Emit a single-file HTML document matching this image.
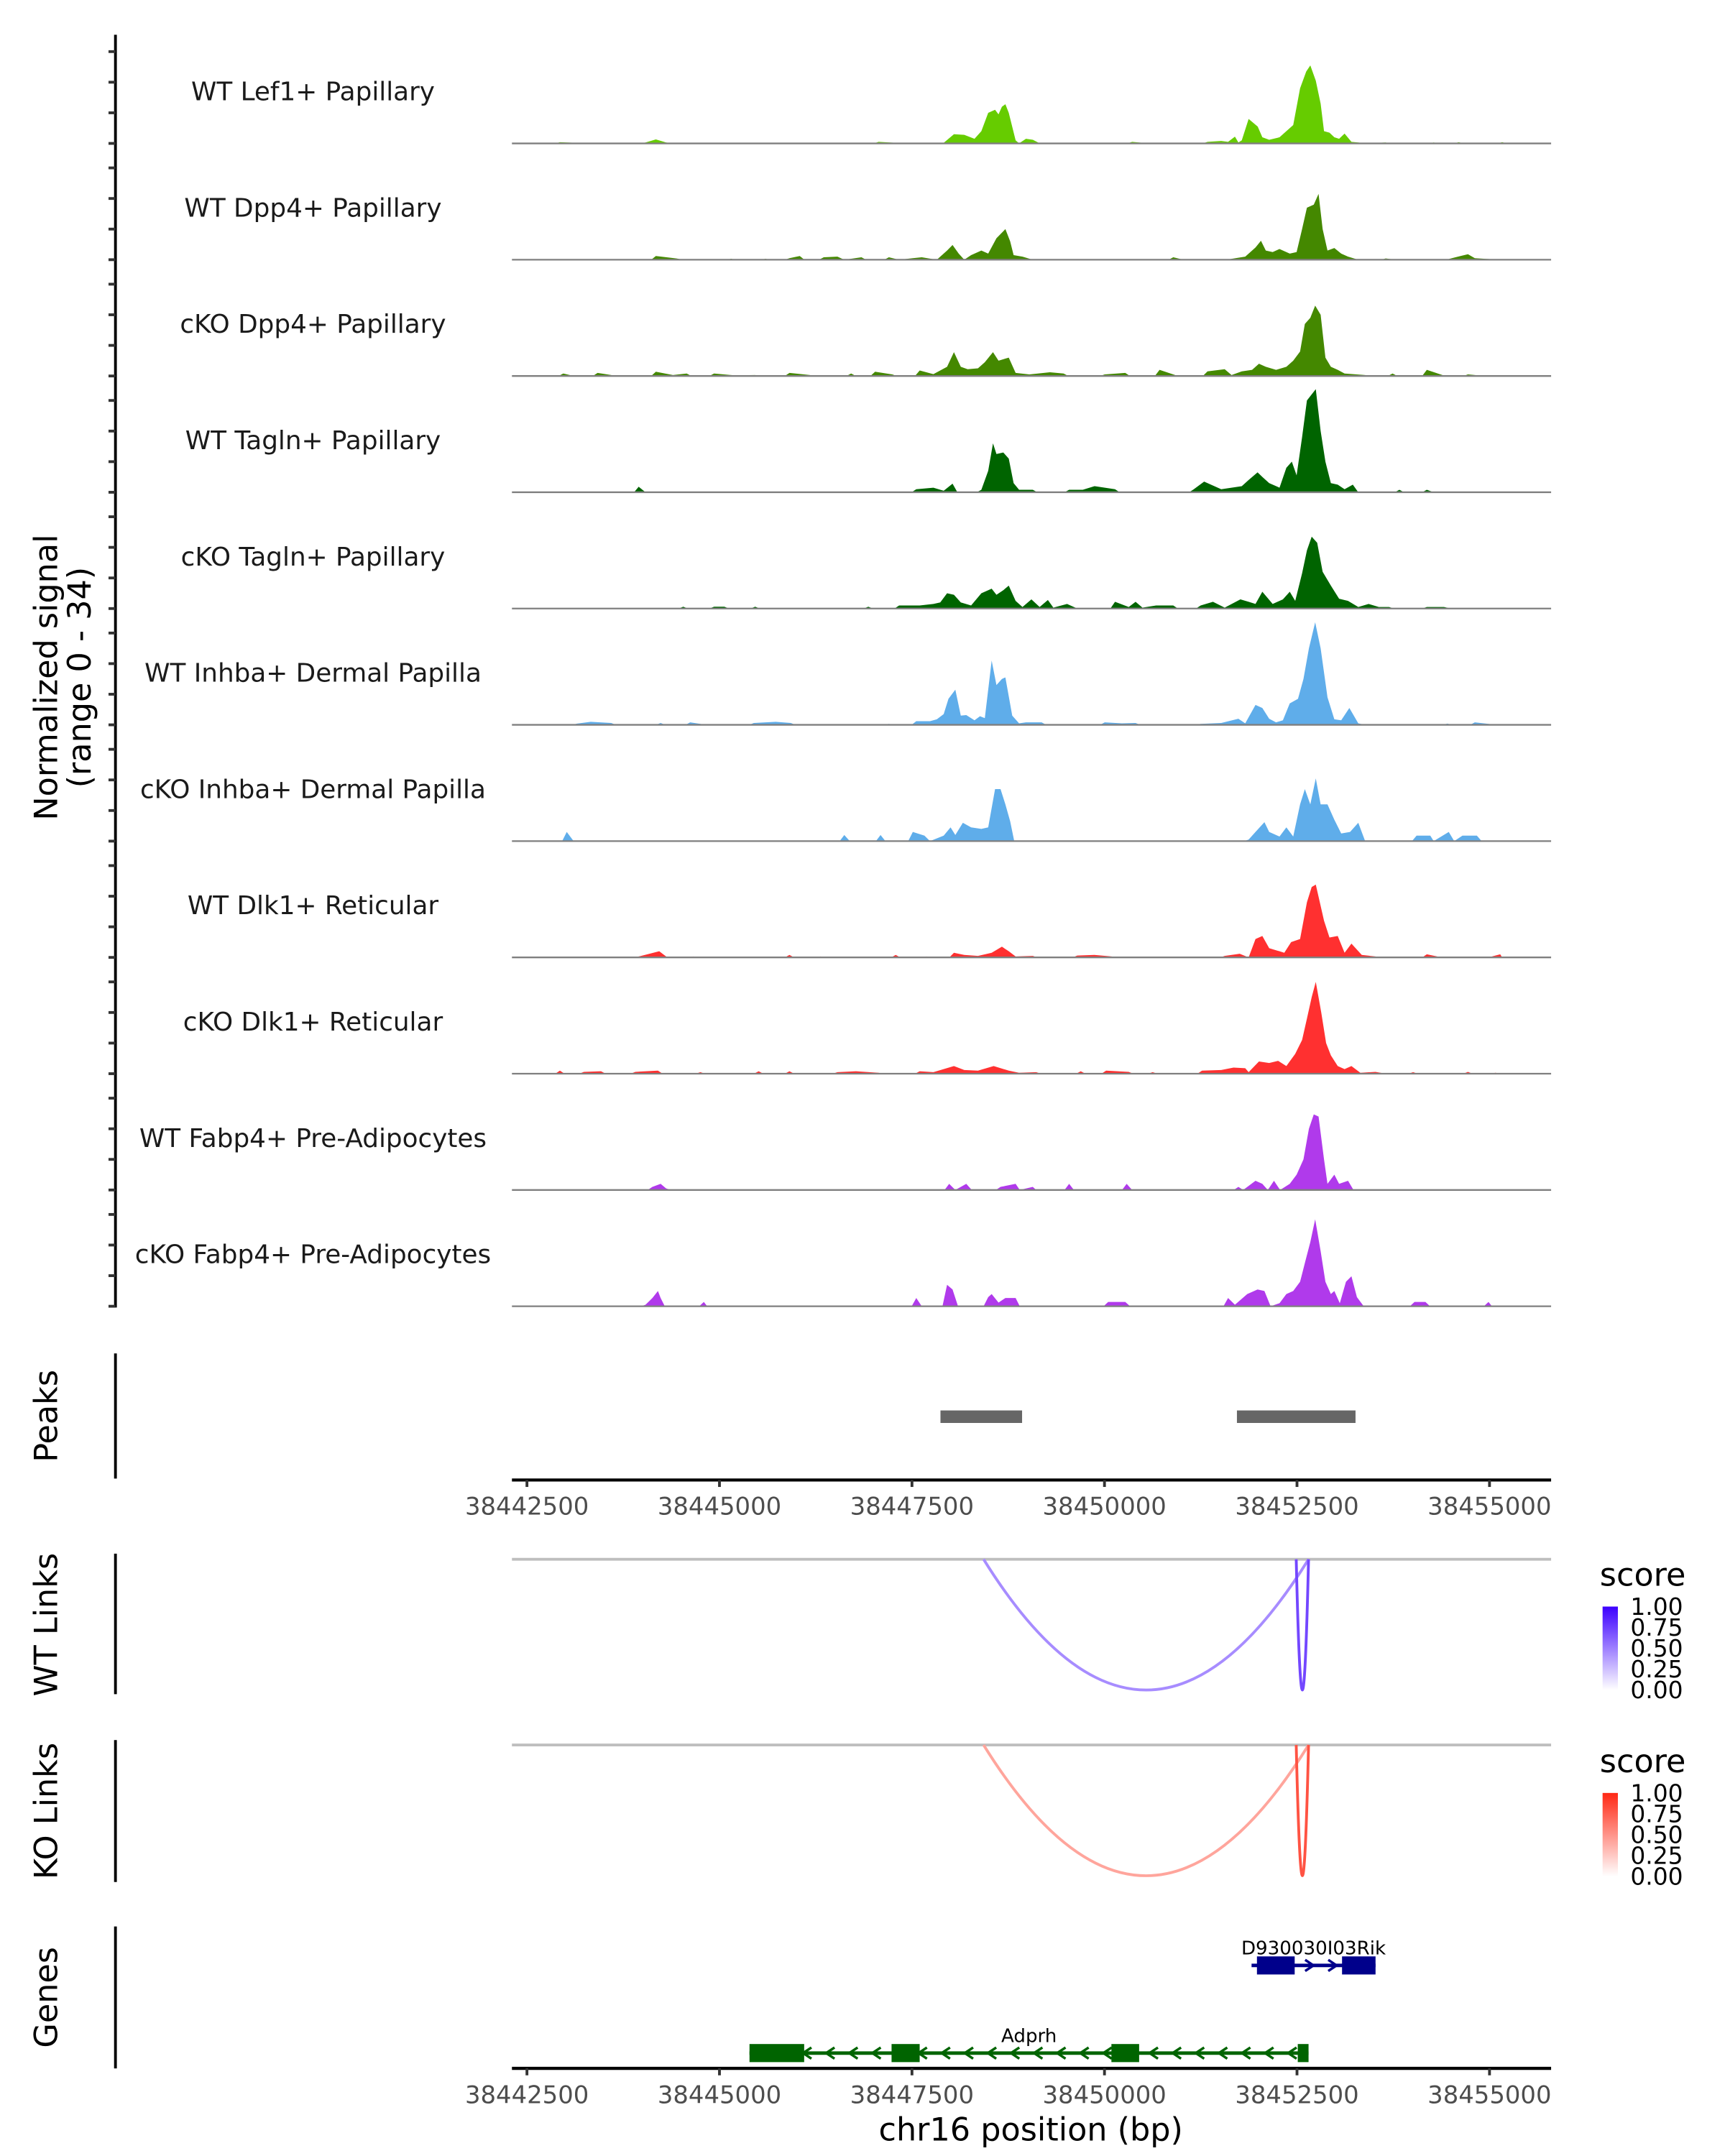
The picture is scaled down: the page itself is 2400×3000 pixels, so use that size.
<!DOCTYPE html>
<html><head><meta charset="utf-8">
<style>
html,body{margin:0;padding:0;background:#fff;}
svg{display:block;}
text{font-family:"DejaVu Sans","Liberation Sans",sans-serif;}
</style></head>
<body>
<svg id="chart" width="2400" height="3000" viewBox="0 0 1240 1550" xmlns="http://www.w3.org/2000/svg">
<g id="static">
  <text transform="translate(41,487) rotate(-90)" text-anchor="middle" font-size="23" fill="#000">Normalized signal</text>
  <text transform="translate(65,487) rotate(-90)" text-anchor="middle" font-size="23" fill="#000">(range 0 - 34)</text>
  <line x1="83" y1="25" x2="83" y2="940" stroke="#000" stroke-width="2"/>
  <line x1="83" y1="973" x2="83" y2="1063" stroke="#000" stroke-width="2"/>
  <text transform="translate(41,1018) rotate(-90)" text-anchor="middle" font-size="23">Peaks</text>
  <line x1="83" y1="1117" x2="83" y2="1218" stroke="#000" stroke-width="2"/>
  <text transform="translate(41,1168) rotate(-90)" text-anchor="middle" font-size="23">WT Links</text>
  <line x1="83" y1="1251" x2="83" y2="1353" stroke="#000" stroke-width="2"/>
  <text transform="translate(41,1302) rotate(-90)" text-anchor="middle" font-size="23">KO Links</text>
  <line x1="83" y1="1385" x2="83" y2="1487" stroke="#000" stroke-width="2"/>
  <text transform="translate(41,1436) rotate(-90)" text-anchor="middle" font-size="23">Genes</text>
  <line x1="368" y1="1121" x2="1115" y2="1121" stroke="#bebebe" stroke-width="2"/>
  <line x1="368" y1="1254.5" x2="1115" y2="1254.5" stroke="#bebebe" stroke-width="2"/>
  <text x="741" y="1539" text-anchor="middle" font-size="23">chr16 position (bp)</text>
  <defs>
    <linearGradient id="gblue" x1="0" y1="1" x2="0" y2="0"><stop offset="0" stop-color="#ffffff"/><stop offset="1" stop-color="#3c00ff"/></linearGradient>
    <linearGradient id="gred" x1="0" y1="1" x2="0" y2="0"><stop offset="0" stop-color="#ffffff"/><stop offset="1" stop-color="#ff2814"/></linearGradient>
  </defs>
  <g>
    <text x="1150" y="1140" font-size="23">score</text>
    <rect x="1152" y="1155" width="11" height="60" fill="url(#gblue)"/>
    <text x="1172" y="1161" font-size="17">1.00</text>
    <text x="1172" y="1176" font-size="17">0.75</text>
    <text x="1172" y="1191" font-size="17">0.50</text>
    <text x="1172" y="1206" font-size="17">0.25</text>
    <text x="1172" y="1221" font-size="17">0.00</text>
  </g>
  <g>
    <text x="1150" y="1274" font-size="23">score</text>
    <rect x="1152" y="1289" width="11" height="60" fill="url(#gred)"/>
    <text x="1172" y="1295" font-size="17">1.00</text>
    <text x="1172" y="1310" font-size="17">0.75</text>
    <text x="1172" y="1325" font-size="17">0.50</text>
    <text x="1172" y="1340" font-size="17">0.25</text>
    <text x="1172" y="1355" font-size="17">0.00</text>
  </g>
</g>
</svg>
<script>
// genomic positions are bp offsets from chr16:38,442,000 ; values are normalized signal
const OFFSET = 38442000;
const trackNames = ["WT Lef1+ Papillary","WT Dpp4+ Papillary","cKO Dpp4+ Papillary","WT Tagln+ Papillary","cKO Tagln+ Papillary","WT Inhba+ Dermal Papilla","cKO Inhba+ Dermal Papilla","WT Dlk1+ Reticular","cKO Dlk1+ Reticular","WT Fabp4+ Pre-Adipocytes","cKO Fabp4+ Pre-Adipocytes"];
const trackColors = ["#66cc00","#448800","#448800","#006400","#006400","#5fadea","#5fadea","#ff3030","#ff3030","#b03aeb","#b03aeb"];

const pos0 = [928,1150,2040,2174,2307,2400,5066,5300,5912,6045,6179,6312,6401,6490,6579,6624,6668,6713,6757,6846,6891,6980,7070,7160,8359,8500,9338,9516,9605,9694,9739,9783,9872,9990,10050,10139,10273,10362,10451,10540,10620,10673,10744,10807,10851,10922,10985,11047,11118,11207,11296,11385,11650,12275,12600,13165];
const val0 = [0.4,0.2,0.3,1.3,0.3,0,0.5,0.2,0.2,3,2.8,1.5,4,10,11,9.5,12,12.8,10,1,0,1.5,1.2,0,0.5,0.2,0.5,0.8,0.5,2.2,0.3,1,8,5.5,2,1.2,2,4,6,18,23.5,25.5,20.5,13,4,3.5,2,1.5,3.2,0.5,0.3,0,0.3,0.3,0.4,0.4];

const pos1 = [2174,2441,2530,3153,3598,3909,4043,4354,4532,4621,4844,5200,5333,5627,5823,5956,6027,6107,6179,6268,6401,6490,6597,6713,6775,6820,6935,7069,8893,9027,9650,9828,9961,10032,10095,10184,10273,10406,10495,10566,10629,10718,10780,10833,10896,10985,11074,11163,11296,11652,11786,12498,12720,12809,12943,13165];
const val1 = [1.2,0.4,0,0.3,0.3,0.5,1.2,0.8,1.0,0,0.8,0.8,0,0.8,0,3,4.8,2,0,1.5,3,2,7,10,6,1.5,1,0,0.8,0,0.3,1,4,6.2,3,2.5,3.5,2,2.5,10,17,18,21.5,10,3,3.8,2,1,0,0.4,0,0.4,1.8,0.5,0.3,0];

const pos2 = [972,1106,1417,1595,2174,2396,2574,2930,3197,3464,3909,4176,4710,5021,5244,5600,5778,5956,6045,6134,6223,6357,6446,6552,6624,6757,6846,7024,7291,7469,8003,8270,8715,8893,9338,9561,9650,9783,9917,10006,10095,10228,10362,10451,10540,10602,10673,10736,10807,10869,10940,11029,11118,11385,11741,12186,12364,12720,12943];
const val2 = [0.8,0,1,0.3,1.4,0.3,0.8,0.8,0.2,0.3,1,0.3,0.8,1.4,0.5,1.8,0.6,3,7.8,3,2.2,2.5,4.5,7.8,5,6,1,0.5,1.2,0.8,0.5,1,2,0.5,1.5,2.2,0.3,1.5,2,4,3,2,3,5,8,17,19,23,20,6,3,2,0.8,0.3,0.8,2,0.5,0.5,0];

const pos3 = [1951,2040,5556,5778,5912,6027,6090,6401,6490,6552,6597,6686,6757,6820,6891,7069,7541,7718,7870,8137,9160,9294,9516,9783,9872,9988,10050,10139,10273,10362,10433,10495,10566,10629,10691,10744,10807,10869,10940,11029,11118,11225,11296,11830,12186,12275];
const val3 = [1.8,0,1,1.5,0.5,2.8,0,0.8,7,16,12.5,13,11,3,0.8,0.8,0.8,0.8,2,1,1,3.5,1,2,4,6.5,5,3,1.5,8,10,5.5,18,30,32,33.7,20,10,3,2.5,1,2.5,0,0.8,0.8,0];

const pos4 = [2530,2930,3064,3464,4933,5333,5600,5778,5867,5956,6045,6134,6268,6401,6535,6597,6686,6757,6846,6935,7051,7158,7265,7336,7514,7647,8137,8315,8404,8493,8671,8893,9249,9409,9561,9765,9872,9961,10050,10184,10317,10406,10477,10566,10629,10691,10762,10833,10940,11047,11163,11296,11430,11563,11696,12186,12409,12498];
const val4 = [0.6,0.6,0.6,0.6,0.6,1,1,1.5,2,5,4.5,2,1,5,6.5,4.5,6,7.5,2.5,0.5,3,0.5,2.8,0.3,1.5,0,2.2,0.5,2.2,0.3,1,1,1,2.2,0.3,3,2.2,1.5,5.5,1.5,3,5.5,2.5,11.5,19,23.5,21.5,12,7.5,3.2,2.5,0.5,1.5,0.5,0.5,0.5,0.5,0];

const pos5 = [1150,1328,1595,2236,2619,2752,3446,3731,3927,5200,5556,5734,5823,5912,5974,6063,6134,6205,6312,6383,6446,6535,6597,6668,6713,6802,6891,6980,7184,8003,8226,8404,9249,9516,9739,9828,9961,10050,10139,10228,10317,10406,10513,10584,10655,10736,10807,10896,10985,11074,11180,11296,11385,12453,12809,12987,13076];
const val5 = [0.4,1,0.6,0.6,0.8,0.3,0.6,1,0.6,0.3,1.2,1.2,1.8,3.5,8.5,11.5,3,3.2,1.5,2.8,2.2,21,13,15,15.5,3,0.5,0.8,0.8,0.8,0.5,0.6,0.3,0.6,2,0.5,6.5,5.5,2,0.8,1.5,7,8.5,15,25,33.5,25,9,1.8,1.5,5.5,0.5,0,0.4,0.8,0.3,0];

const pos6 = [1017,1106,4621,4692,5092,5155,5511,5662,5734,5912,6001,6063,6161,6268,6401,6490,6579,6650,6713,6775,6828,9872,9961,10077,10139,10273,10362,10451,10540,10602,10673,10744,10807,10896,10985,11074,11189,11296,11385,12053,12231,12275,12471,12542,12649,12836,12898];
const val6 = [3,0,2,0,2,0,3,1.8,0,1.8,4.5,2,6,4.5,4,4.5,17,17,12,6.5,0,0.5,3,6.2,3,1.5,4.5,1.5,12,17,12,20.5,12,12,7,2.5,3,6,0,1.8,1.8,0,3,0,1.8,1.8,0];

const pos7 = [1951,2218,2307,2663,3909,4310,5289,5689,6045,6179,6357,6535,6668,6757,6846,7069,7647,7870,8092,9561,9756,9872,9961,10050,10139,10273,10335,10424,10540,10629,10691,10744,10851,10922,11029,11118,11207,11341,11519,12186,12320,13032,13139,13165];
const val7 = [0.3,2,0.3,0.3,0.8,0.3,0.8,0.3,1.5,0.8,0.5,1.5,3.5,2,0.3,0.5,0.6,0.8,0.3,0.5,1.2,0,6,7,3,2,1.5,5,6,18,23,23.8,12,6.5,7,1.5,4.5,0.8,0.3,1,0.3,0.3,1,0];

const pos8 = [928,1239,1462,1907,2201,2752,3509,3909,4532,4772,5066,5600,5778,6045,6179,6357,6561,6757,6891,7113,7692,8021,8315,8626,9267,9516,9676,9828,9872,10006,10139,10255,10362,10477,10566,10629,10691,10744,10815,10878,10940,11029,11118,11207,11323,11519,11652,12008,12720,13076,13165];
const val8 = [1,0.6,0.8,0.6,1,0.5,0.8,0.8,0.5,0.8,0.3,0.8,0.5,2.5,1.2,1,2.5,1,0.3,0.5,0.8,1,0.6,0.5,1,1.2,2,1.8,0.5,4,3.5,4.2,2.5,6.5,11,18,25,30,20,10,6,2.5,1.5,2.5,0.3,0.6,0,0.5,0.6,0.3,0];

const pos9 = [2129,2236,2307,5983,6063,6205,6277,6650,6846,6900,7069,7113,7541,7603,8288,8359,9739,9801,9961,10050,10121,10201,10281,10406,10495,10584,10655,10718,10780,10851,10896,10985,11047,11163,11234];
const val9 = [1,2,0.5,2,0,2,0,1,2,0,1,0,2,0,2,0,1,0,3,2,0,3,0,2,5,10,20,24.7,24,10,2,5,2,3,0];

const pos10 = [2040,2129,2201,2236,2290,2797,2841,5556,5627,5956,6027,6098,6490,6535,6624,6713,6846,6900,8048,8270,8333,9605,9694,9854,9988,10077,10157,10273,10362,10451,10540,10611,10673,10736,10807,10869,10940,10985,11056,11136,11207,11278,11367,12026,12168,12987,13032];
const val10 = [0.5,2.7,5,2.7,0,1.4,0,2.7,0,7,5.5,0,3,4,1.2,2.7,2.7,0,1.4,1.4,0,2.7,0.5,4,5.5,5,0,1,4,5,8,15,21,28.4,18,8,4,5,1,8,9.8,3,0,1.4,1.4,1.4,0];

const trackPos = [pos0,pos1,pos2,pos3,pos4,pos5,pos6,pos7,pos8,pos9,pos10];
const trackVal = [val0,val1,val2,val3,val4,val5,val6,val7,val8,val9,val10];
const yTicks = [0,10,20,30];

const peakStarts = [38447870,38451720];
const peakEnds = [38448930,38453260];

const xTickValues = [38442500,38445000,38447500,38450000,38452500,38455000];

const wtLinkStart = [38448430,38452490];
const wtLinkEnd = [38452650,38452650];
const wtLinkScore = [0.45,0.72];
const koLinkStart = [38448430,38452490];
const koLinkEnd = [38452650,38452650];
const koLinkScore = [0.42,0.8];

const geneNames = ["D930030I03Rik","Adprh"];
const geneStart = [38451910,38445390];
const geneEnd = [38453520,38452650];
const geneStrand = [1,-1];
const exonStarts = [[38451980,38453085],[38445390,38447235,38450090,38452510]];
const exonEnds = [[38452470,38453520],[38446100,38447600,38450450,38452650]];
const geneColors = ["#00008b","#006400"];

const NS = "http://www.w3.org/2000/svg";
const svg = document.getElementById("chart");
const X0 = 368, X1 = 1115, D0 = 38442305, D1 = 38455800;
function x(bp){ return X0 + (bp - D0) / (D1 - D0) * (X1 - X0); }
const BASE0 = 103.1, STEP = 83.6, UNIT = 2.2;
function y(i, v){ return BASE0 + i*STEP - v*UNIT; }
function mk(tag, attrs, parent){ const e=document.createElementNS(NS,tag); for(const k in attrs) e.setAttribute(k,attrs[k]); (parent||svg).appendChild(e); return e; }
const GAP = 300, PAD = 60;

for (let i=0;i<trackNames.length;i++){
  const g = mk("g",{});
  
  
  const base = y(i,0);
  const P = trackPos[i], V = trackVal[i];
  let d = "M"+x(OFFSET+P[0]-PAD).toFixed(2)+","+base;
  for (let k=0;k<P.length;k++){
    d += " L"+x(OFFSET+P[k]).toFixed(2)+","+y(i,V[k]).toFixed(2);
    if (k<P.length-1 && P[k+1]-P[k] > GAP){
      d += " L"+x(OFFSET+P[k]+PAD).toFixed(2)+","+base;
      d += " L"+x(OFFSET+P[k+1]-PAD).toFixed(2)+","+base;
    }
  }
  d += " L"+x(OFFSET+P[P.length-1]+PAD).toFixed(2)+","+base+" Z";
  const area = mk("path",{d:d, fill:trackColors[i]}, g);
  
  
  const bl = mk("line",{x1:X0,x2:X1,y1:base,y2:base,stroke:"#7f7f7f","stroke-width":1.2}, g);
  
  
  const lab = mk("text",{x:225,y:base-31,"text-anchor":"middle","font-size":18.5,fill:"#1a1a1a"}, g);
  lab.textContent = trackNames[i];
  
  
  for (const t of yTicks){
    const tk = mk("line",{x1:78,x2:83,y1:y(i,t),y2:y(i,t),stroke:"#333","stroke-width":2});
    
    
  }
}

for (let k=0;k<peakStarts.length;k++){
  const r = mk("rect",{x:x(peakStarts[k]),y:1014,width:x(peakEnds[k])-x(peakStarts[k]),height:9,fill:"#666666"});
  
  
}

function xAxis(yy){
  const l = mk("line",{x1:X0,x2:X1,y1:yy,y2:yy,stroke:"#000","stroke-width":2.2});
  
  
  for (const v of xTickValues){
    const t = mk("line",{x1:x(v),x2:x(v),y1:yy,y2:yy+5,stroke:"#333","stroke-width":2});
    
    
    const tx = mk("text",{x:x(v),y:yy+25,"text-anchor":"middle","font-size":17.5,fill:"#4d4d4d"});
    tx.textContent = String(v);
    
    
  }
}
xAxis(1064); xAxis(1487);

function mix(c, s){ return "rgb("+c.map(v=>Math.round(255+(v-255)*s)).join(",")+")"; }
function links(S,E,SC,top,col){
  for (let k=0;k<S.length;k++){
    const a=x(S[k]), b=x(E[k]), depth=94;
    const p = mk("path",{d:`M${a},${top} Q${(a+b)/2},${top+2*depth} ${b},${top}`,fill:"none",stroke:mix(col,SC[k]),"stroke-width":2});
    
    
  }
}
links(wtLinkStart,wtLinkEnd,wtLinkScore,1121,[60,0,255]);
links(koLinkStart,koLinkEnd,koLinkScore,1254.5,[255,40,20]);

const geneY = [1413,1476];
for (let g=0; g<geneNames.length; g++){
  const gy = geneY[g], c = geneColors[g];
  const grp = mk("g",{});
  
  
  mk("line",{x1:x(geneStart[g]),x2:x(geneEnd[g]),y1:gy,y2:gy,stroke:c,"stroke-width":2.5},grp);
  for (let bp=geneStart[g]+150; bp<geneEnd[g]-50; bp+=300){
    const cx=x(bp), dir=geneStrand[g];
    const ch = mk("path",{d:`M${cx-3*dir},${gy-4} L${cx+3*dir},${gy} L${cx-3*dir},${gy+4}`,fill:"none",stroke:c,"stroke-width":1.8},grp);
    
    
  }
  for (let k=0;k<exonStarts[g].length;k++){
    const r = mk("rect",{x:x(exonStarts[g][k]),y:gy-6.5,width:x(exonEnds[g][k])-x(exonStarts[g][k]),height:13,fill:c},grp);
    
    
  }
  const t = mk("text",{x:(x(geneStart[g])+x(geneEnd[g]))/2,y:gy-8,"text-anchor":"middle","font-size":13.5,fill:"#000"},grp);
  t.textContent = geneNames[g];
  
  
}
</script>
</body></html>
